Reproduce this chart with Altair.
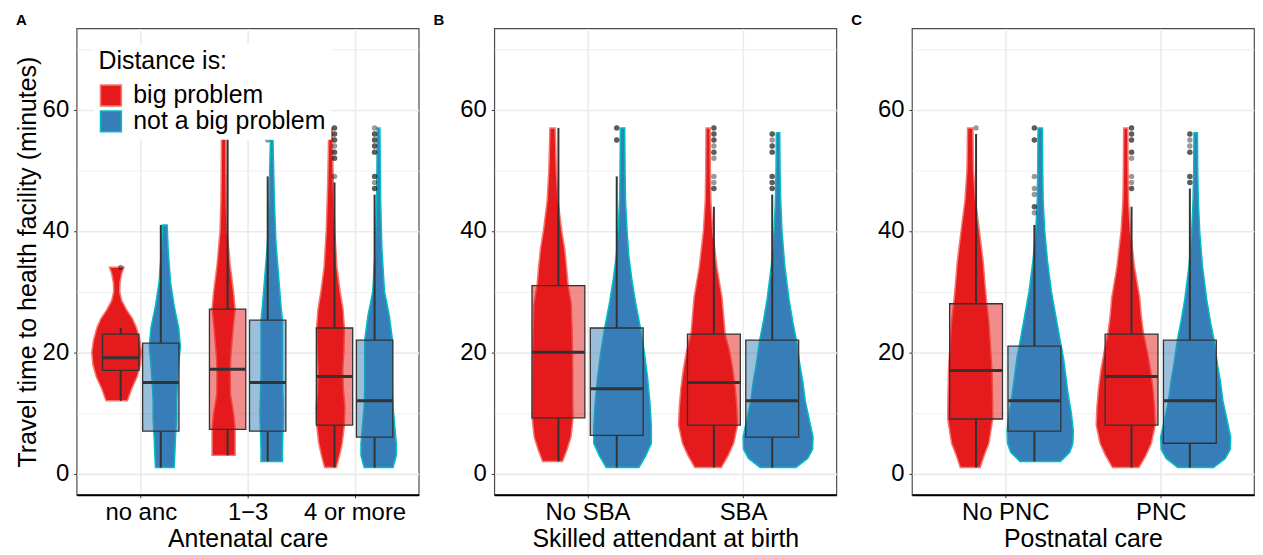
import altair as alt
import pandas as pd

FONT = "Liberation Sans"
DIST = ["big problem", "not a big problem"]
FILL = ["#E41A1C", "#377EB8"]
EDGE = ["#F8766D", "#00BFC4"]

# ---------------- Panel A : Antenatal care ----------------
A_cats = ["no anc", "1\u22123", "4 or more"]
A_xtitle = "Antenatal care"
# violin outlines: travel time (minutes) and half-width (category units)
A_noanc_big_y = [12, 14, 16, 18, 20, 22, 24, 25.5, 27, 28.5, 30, 31.5, 33, 34]
A_noanc_big_w = [0.10, 0.14, 0.192, 0.223, 0.233, 0.217, 0.186, 0.149, 0.093, 0.047, 0.028, 0.031, 0.047, 0.068]
A_noanc_not_y = [1, 3, 6, 9, 12, 15, 18, 21, 24, 27.7, 31.6, 37, 41]
A_noanc_not_w = [0.087, 0.093, 0.10, 0.109, 0.109, 0.118, 0.13, 0.145, 0.13, 0.087, 0.053, 0.031, 0.022]
A_13_big_y = [3, 5, 7.3, 10, 13, 16, 19, 22, 25, 27.1, 30, 34.3, 39.8, 45, 50, 57]
A_13_big_w = [0.108, 0.108, 0.108, 0.093, 0.064, 0.062, 0.066, 0.08, 0.095, 0.108, 0.093, 0.062, 0.034, 0.025, 0.022, 0.02]
A_13_not_y = [2, 4, 7, 10, 13, 16, 19, 22, 25.3, 28, 32, 38, 45, 55]
A_13_not_w = [0.1, 0.1, 0.105, 0.11, 0.105, 0.1, 0.1, 0.1, 0.1, 0.085, 0.067, 0.04, 0.025, 0.012]
A_4m_big_y = [1, 3, 5, 8, 11, 14, 17, 20, 24, 27, 30, 34, 40, 48, 57]
A_4m_big_w = [0.055, 0.085, 0.11, 0.13, 0.135, 0.12, 0.115, 0.125, 0.13, 0.118, 0.09, 0.06, 0.04, 0.026, 0.016]
A_4m_not_y = [1, 3, 5, 8, 11, 14, 17, 20, 22, 26, 30, 37, 45, 57]
A_4m_not_w = [0.135, 0.165, 0.165, 0.15, 0.135, 0.13, 0.13, 0.13, 0.13, 0.1, 0.055, 0.031, 0.019, 0.012]
# box statistics, order: (cat1 big, cat1 not, cat2 big, ...)
A_lo = [12, 1, 3, 2, 1, 1]
A_q1 = [17, 7, 7.3, 7, 8, 6]
A_med = [19.1, 15, 17.2, 15, 16, 12]
A_q3 = [23, 21.5, 27.1, 25.3, 24, 22]
A_hi = [24, 41, 57, 49, 48, 46]
# outliers: value, number of overlapping points, group index
A_out_val = [34, 55, 57, 56, 55, 54, 53, 52, 49, 57, 56, 55, 54, 53, 49, 48, 47]
A_out_cnt = [1, 1, 2, 2, 2, 1, 2, 2, 1, 1, 2, 2, 2, 2, 2, 1, 2]
A_out_grp = [0, 3, 4, 4, 4, 4, 4, 4, 4, 5, 5, 5, 5, 5, 5, 5, 5]

# ---------------- Panel B : Skilled attendant at birth ----------------
B_cats = ["No SBA", "SBA"]
B_xtitle = "Skilled attendant at birth"
B_no_big_y = [2, 4, 6, 9.2, 12, 16, 20, 24, 28, 31, 34, 37, 40, 45, 50, 57]
B_no_big_w = [0.064, 0.094, 0.118, 0.132, 0.13, 0.13, 0.128, 0.125, 0.12, 0.1, 0.09, 0.078, 0.059, 0.035, 0.024, 0.017]
B_no_not_y = [1, 3, 5, 8, 12, 16, 20, 24, 28, 32, 36, 40, 45, 50, 57]
B_no_not_w = [0.105, 0.15, 0.185, 0.185, 0.175, 0.16, 0.14, 0.115, 0.085, 0.06, 0.04, 0.029, 0.019, 0.016, 0.014]
B_yes_big_y = [1, 3, 5, 8, 11, 14, 17, 20, 23, 26, 29, 34, 40, 45, 50, 57]
B_yes_big_w = [0.085, 0.13, 0.165, 0.19, 0.185, 0.175, 0.16, 0.14, 0.11, 0.1, 0.09, 0.057, 0.03, 0.018, 0.015, 0.013]
B_yes_not_y = [1, 2.5, 4, 6, 9, 12, 15, 18, 22, 25, 28.8, 34.3, 39.8, 45, 50, 56.2]
B_yes_not_w = [0.115, 0.19, 0.222, 0.225, 0.2, 0.175, 0.16, 0.14, 0.118, 0.095, 0.07, 0.043, 0.026, 0.017, 0.013, 0.011]
B_lo = [2, 1, 1, 1]
B_q1 = [9.2, 6.3, 8, 6]
B_med = [20, 14, 15, 12]
B_q3 = [31, 24, 23, 22]
B_hi = [57, 49, 44, 46]
B_out_val = [57, 55, 57, 56, 55, 54, 53, 52, 49, 48, 47, 56, 55, 54, 53, 49, 48, 47]
B_out_cnt = [2, 2, 2, 2, 2, 1, 2, 1, 1, 1, 2, 2, 1, 2, 2, 2, 2, 2]
B_out_grp = [1, 1, 2, 2, 2, 2, 2, 2, 2, 2, 2, 3, 3, 3, 3, 3, 3, 3]

# ---------------- Panel C : Postnatal care ----------------
C_cats = ["No PNC", "PNC"]
C_xtitle = "Postnatal care"
C_no_big_y = [1, 3, 5, 9, 13, 17, 21, 25, 28, 31, 35, 40, 45, 50, 57]
C_no_big_w = [0.064, 0.09, 0.12, 0.145, 0.143, 0.14, 0.13, 0.12, 0.107, 0.096, 0.083, 0.059, 0.034, 0.021, 0.017]
C_no_not_y = [2, 3.5, 5, 7, 10, 13, 16, 19, 22, 26, 30, 35, 40, 45, 50, 57]
C_no_not_w = [0.13, 0.19, 0.21, 0.213, 0.2, 0.18, 0.165, 0.15, 0.128, 0.1, 0.072, 0.047, 0.029, 0.019, 0.016, 0.014]
C_yes_big_y = [1, 3, 5, 8, 11, 14, 17, 20, 23, 26, 29, 34, 40, 45, 50, 57]
C_yes_big_w = [0.085, 0.13, 0.165, 0.19, 0.185, 0.175, 0.16, 0.14, 0.115, 0.1, 0.09, 0.057, 0.03, 0.018, 0.015, 0.013]
C_yes_not_y = [1, 2.5, 4, 6, 9, 12, 15, 18, 22, 25, 28.8, 34.3, 39.8, 45, 50, 56.2]
C_yes_not_w = [0.115, 0.19, 0.222, 0.225, 0.2, 0.175, 0.16, 0.14, 0.118, 0.095, 0.07, 0.043, 0.026, 0.017, 0.013, 0.011]
C_lo = [1, 2, 1, 1]
C_q1 = [9, 7, 8, 5]
C_med = [17, 12, 16, 12]
C_q3 = [28, 21, 23, 22]
C_hi = [56, 41, 44, 47]
C_out_val = [57, 57, 55, 49, 47, 46, 44, 43, 57, 56, 55, 53, 52, 49, 48, 47, 56, 55, 54, 53, 49, 48]
C_out_cnt = [1, 2, 2, 1, 1, 1, 2, 1, 2, 2, 2, 2, 1, 1, 1, 2, 2, 1, 1, 2, 2, 2]
C_out_grp = [0, 1, 1, 1, 1, 1, 1, 1, 2, 2, 2, 2, 2, 2, 2, 2, 3, 3, 3, 3, 3, 3]

Y_TITLE = "Travel time to health facility (minutes)"

VIOLIN_DODGE = 0.225
BOX_DODGE = 0.1875
BOX_HALF = 0.17
PANEL_W = 344
PANEL_H = 469
TICK_FS = 24
TITLE_FS = 25


def make_panel(letter, cats, xtitle, violins, lo, q1, med, q3, hi, out_val, out_cnt, out_grp, first):
    n = len(cats)
    vrows = []
    for vid, (ci, di, ys, ws) in enumerate(violins):
        for y, w in zip(ys, ws):
            vrows.append(dict(vid=vid, pos=ci + 1, side=(-1 if di == 0 else 1), dist=DIST[di], y=y, w=w))
    vdf = pd.DataFrame(vrows)
    brows = []
    for g in range(len(lo)):
        ci, di = g // 2, g % 2
        brows.append(dict(pos=ci + 1, side=(-1 if di == 0 else 1), dist=DIST[di],
                          lo=lo[g], q1=q1[g], med=med[g], q3=q3[g], hi=hi[g]))
    bdf = pd.DataFrame(brows)
    orows = []
    for v, c, g in zip(out_val, out_cnt, out_grp):
        ci, di = g // 2, g % 2
        for _ in range(c):
            orows.append(dict(pos=ci + 1, side=(-1 if di == 0 else 1), y=v))
    odf = pd.DataFrame(orows)

    xscale = alt.Scale(domain=[0.4, n + 0.6], nice=False, zero=False)
    yscale = alt.Scale(domain=[-3.5, 73.4], nice=False, zero=False)
    label_expr = "[" + ",".join("'" + c + "'" for c in cats) + "][datum.value - 1]"
    xaxis = alt.Axis(values=list(range(1, n + 1)), labelExpr=label_expr, title=xtitle,
                     grid=True, gridWidth=1.6, gridColor="#EBEBEB",
                     ticks=True, tickSize=3, tickColor="#333333", tickWidth=1,
                     domain=True, domainColor="black", domainWidth=2,
                     labelFontSize=TICK_FS, titleFontSize=TITLE_FS, labelColor="black", titleColor="black",
                     titleFontWeight="normal", labelPadding=3, titlePadding=2,
                     labelFont=FONT, titleFont=FONT)
    ykw = dict(values=list(range(0, 71, 10)),
               labelExpr="datum.value % 20 === 0 ? datum.label : ''",
               grid=True, gridColor="#EBEBEB",
               gridWidth={"condition": {"test": "datum.value % 20 === 0", "value": 1.6}, "value": 0.8},
               ticks=True, tickSize=3, tickColor="#333333",
               tickOpacity={"condition": {"test": "datum.value % 20 === 0", "value": 1}, "value": 0},
               domain=False, labelFontSize=TICK_FS, titleFontSize=TITLE_FS, labelColor="black",
               titleColor="black", titleFontWeight="normal", labelPadding=5, titlePadding=2,
               labelFont=FONT, titleFont=FONT)
    if first:
        yaxis = alt.Axis(title=Y_TITLE, **ykw)
    else:
        yaxis = alt.Axis(title=None, **ykw)

    if first:
        leg = alt.Legend(orient="none", legendX=17, legendY=16, title="Distance is:",
                         titleFontSize=TITLE_FS, labelFontSize=TITLE_FS, titleFont=FONT, labelFont=FONT,
                         titleFontWeight="normal", titleColor="black", labelColor="black",
                         symbolType="square", symbolSize=441, symbolStrokeWidth=1.5, symbolOpacity=1,
                         fillColor="white", padding=5, rowPadding=-7, labelOffset=10, titlePadding=9,
                         labelLimit=400)
        fill = alt.Fill("dist:N", scale=alt.Scale(domain=DIST, range=FILL), legend=leg, title="Distance is:")
        stroke = alt.Stroke("dist:N", scale=alt.Scale(domain=DIST, range=EDGE), legend=leg, title="Distance is:")
    else:
        fill = alt.Fill("dist:N", scale=alt.Scale(domain=DIST, range=FILL), legend=None)
        stroke = alt.Stroke("dist:N", scale=alt.Scale(domain=DIST, range=EDGE), legend=None)

    def X(field):
        return alt.X(field, type="quantitative", scale=xscale, axis=xaxis, stack=None)

    def Y(field):
        return alt.Y(field, type="quantitative", scale=yscale, axis=yaxis, stack=None)

    violin = alt.Chart(vdf).transform_calculate(
        xl=f"datum.pos + datum.side*{VIOLIN_DODGE} - datum.w",
        xr=f"datum.pos + datum.side*{VIOLIN_DODGE} + datum.w",
    ).mark_area(orient="horizontal", strokeWidth=1.5, opacity=1).encode(
        y=Y("y"),
        x=X("xl"),
        x2="xr:Q",
        fill=fill,
        stroke=stroke,
        detail="vid:N",
    )

    bbase = alt.Chart(bdf).transform_calculate(
        bx=f"datum.pos + datum.side*{BOX_DODGE}",
        bl=f"datum.pos + datum.side*{BOX_DODGE} - {BOX_HALF}",
        br=f"datum.pos + datum.side*{BOX_DODGE} + {BOX_HALF}",
    )
    whisk_lo = bbase.mark_rule(color="#333333", strokeWidth=2).encode(
        x=X("bx"), y=Y("lo"), y2="q1:Q")
    whisk_hi = bbase.mark_rule(color="#333333", strokeWidth=2).encode(
        x=X("bx"), y=Y("q3"), y2="hi:Q")
    box = bbase.mark_rect(fillOpacity=0.5, stroke="#333333", strokeWidth=1.3).encode(
        x=X("bl"), x2="br:Q", y=Y("q1"), y2="q3:Q", fill=fill)
    median = bbase.mark_rule(color="#333333", strokeWidth=3).encode(
        x=X("bl"), x2="br:Q", y=Y("med"))
    outl = alt.Chart(odf).transform_calculate(
        bx=f"datum.pos + datum.side*{BOX_DODGE}"
    ).mark_circle(color="black", opacity=0.4, size=30).encode(
        x=X("bx"), y=Y("y"))

    return alt.layer(violin, whisk_lo, whisk_hi, box, median, outl).properties(
        width=PANEL_W, height=PANEL_H,
        title=alt.TitleParams(letter, anchor="start", frame="group", dx=-61, fontSize=15,
                              fontWeight="bold", font=FONT, color="black", offset=0),
    )


A_violins = [(0, 0, A_noanc_big_y, A_noanc_big_w), (0, 1, A_noanc_not_y, A_noanc_not_w),
             (1, 0, A_13_big_y, A_13_big_w), (1, 1, A_13_not_y, A_13_not_w),
             (2, 0, A_4m_big_y, A_4m_big_w), (2, 1, A_4m_not_y, A_4m_not_w)]
B_violins = [(0, 0, B_no_big_y, B_no_big_w), (0, 1, B_no_not_y, B_no_not_w),
             (1, 0, B_yes_big_y, B_yes_big_w), (1, 1, B_yes_not_y, B_yes_not_w)]
C_violins = [(0, 0, C_no_big_y, C_no_big_w), (0, 1, C_no_not_y, C_no_not_w),
             (1, 0, C_yes_big_y, C_yes_big_w), (1, 1, C_yes_not_y, C_yes_not_w)]

pA = make_panel("A", A_cats, A_xtitle, A_violins, A_lo, A_q1, A_med, A_q3, A_hi,
                A_out_val, A_out_cnt, A_out_grp, True)
pB = make_panel("B", B_cats, B_xtitle, B_violins, B_lo, B_q1, B_med, B_q3, B_hi,
                B_out_val, B_out_cnt, B_out_grp, False)
pC = make_panel("C", C_cats, C_xtitle, C_violins, C_lo, C_q1, C_med, C_q3, C_hi,
                C_out_val, C_out_cnt, C_out_grp, False)

chart = alt.hconcat(pA, pB, pC, spacing=76, bounds="flush").resolve_scale(
    x="independent", fill="independent", stroke="independent"
).properties(
    padding={"left": 6, "top": 3, "right": 0, "bottom": 0},
).configure(font=FONT).configure_view(stroke="#4d4d4d", strokeWidth=1.2)

chart.save("out.html", embed_options={"renderer": "svg", "actions": False})
